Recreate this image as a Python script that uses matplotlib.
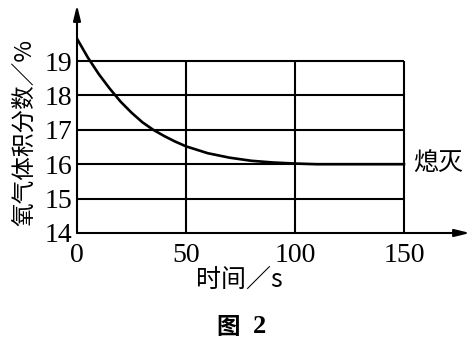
import matplotlib
matplotlib.use("Agg")
import matplotlib.pyplot as plt

# data
t = [0, 5, 10, 15, 20, 25, 30, 35, 40, 45, 50, 60, 70, 80, 90, 100, 110, 120, 130, 140, 150]
o2 = [19.65, 19.1, 18.62, 18.2, 17.82, 17.5, 17.22, 17.0, 16.82, 16.66, 16.52, 16.32, 16.19, 16.1, 16.05, 16.02, 16.0, 16.0, 16.0, 16.0, 16.0]
xticks = [0, 50, 100, 150]
yticks = [14, 15, 16, 17, 18, 19]
ylabel = "氧气体积分数／%"
xlabel = "时间／s"
end_label = "熄灭"
caption_word = "图"
caption_num = "2"

serif = ["Liberation Serif", "DejaVu Serif"]
cjk = ["Noto Sans CJK SC", "DejaVu Sans"]

fig = plt.figure(figsize=(4.76, 3.40), dpi=100)
ax = fig.add_axes([77/476, 1-233/340, 393/476, 228/340])
ax.set_xlim(0, 180.3)
ax.set_ylim(14, 20.63)
for s in ax.spines.values():
    s.set_visible(False)
ax.set_xticks([])
ax.set_yticks([])

lw = 1.5
# grid
for y in yticks[1:]:
    ax.plot([0, 150], [y, y], color="black", lw=lw, solid_capstyle="butt")
for x in xticks[1:]:
    ax.plot([x, x], [14, 19], color="black", lw=lw, solid_capstyle="butt")

# axes arrows
ax.annotate("", xy=(180.3, 14), xytext=(0, 14),
            arrowprops=dict(arrowstyle="-|>,head_length=0.9,head_width=0.22", color="black", lw=lw, shrinkA=0, shrinkB=0))
ax.annotate("", xy=(0, 20.63), xytext=(0, 14),
            arrowprops=dict(arrowstyle="-|>,head_length=0.9,head_width=0.22", color="black", lw=lw, shrinkA=0, shrinkB=0))

# curve
ax.plot(t, o2, color="black", lw=1.9)

# tick labels
for x in xticks:
    ax.text(x, 13.72, str(x), ha="center", va="top", fontsize=20, family=serif)
for y in yticks:
    ax.text(-2.3, y, str(y), ha="right", va="center_baseline", fontsize=20, family=serif)

ax.text(154, 16, end_label, ha="left", va="center", fontsize=18, family=cjk)
fig.text(25/476, 1-133/340, ylabel, rotation=90, ha="center", va="center", fontsize=17, family=cjk)
fig.text(239/476, 1-280/340, xlabel, ha="center", va="center", fontsize=18, family=cjk)
fig.text(228/476, 1-327/340, caption_word, ha="center", va="center", fontsize=17, family=cjk, weight="bold")
fig.text(260/476, 1-333/340, caption_num, ha="center", va="baseline", fontsize=19, family=serif, weight="bold")

fig.savefig("out.png", dpi=100)
